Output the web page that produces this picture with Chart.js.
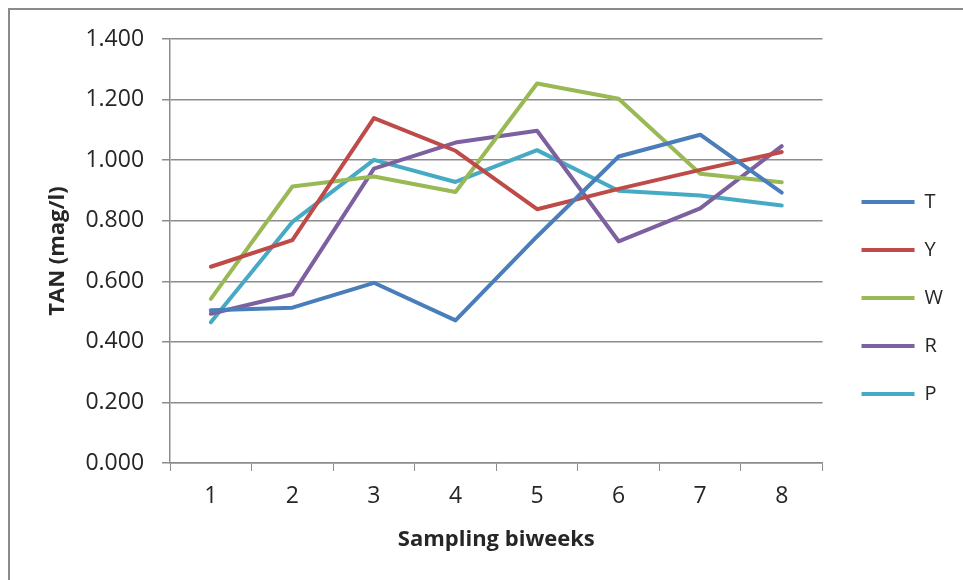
<!DOCTYPE html>
<html>
<head>
    <title>TAN by sampling biweek</title>
    <script src="https://cdn.jsdelivr.net/npm/chart.js"></script>
    <style>
        html, body { margin: 0; padding: 0; background: #fff; overflow: hidden; }
        #wrap { position: relative; width: 963px; height: 580px; }
        #frame {
            position: absolute; left: 8px; top: 8px; width: 1000px; height: 600px;
            border-top: 2px solid #8a8a8a; border-left: 2px solid #8a8a8a;
        }
        #tanChart { position: absolute; left: 0; top: 0; }
    </style>
</head>
<body>
    <div id="wrap">
        <div id="frame"></div>
        <canvas id="tanChart" width="963" height="580"></canvas>
    </div>

    <script>
        var biweeks = ['1', '2', '3', '4', '5', '6', '7', '8'];
        var seriesT = [0.504, 0.513, 0.595, 0.471, 0.748, 1.012, 1.084, 0.893];
        var seriesY = [0.648, 0.736, 1.139, 1.031, 0.838, 0.905, 0.968, 1.027];
        var seriesW = [0.542, 0.913, 0.946, 0.895, 1.253, 1.203, 0.955, 0.927];
        var seriesR = [0.493, 0.557, 0.972, 1.058, 1.097, 0.732, 0.841, 1.046];
        var seriesP = [0.465, 0.796, 1.001, 0.928, 1.033, 0.899, 0.883, 0.850];
        var yTicks = [0, 0.2, 0.4, 0.6, 0.8, 1.0, 1.2, 1.4];

        var gridGray = '#8c8c8c';
        var textDark = '#262626';
        var legendGap = 11; // extra room between plot and legend

        function line(label, values, color) {
            return {
                label: label,
                data: values,
                borderColor: color,
                backgroundColor: color,
                borderWidth: 4,
                borderJoinStyle: 'round',
                borderCapStyle: 'round',
                pointRadius: 0,
                pointHoverRadius: 0,
                tension: 0
            };
        }

        // widen the legend box on its left side so the plot ends earlier
        var legendSpacer = {
            id: 'legendSpacer',
            beforeUpdate: function (chart) {
                var lg = chart.legend;
                if (!lg || lg._spaced) return;
                var fit = lg.fit;
                lg.fit = function () {
                    fit.call(this);
                    this.width += legendGap;
                };
                lg._spaced = true;
            },
            afterLayout: function (chart) {
                if (chart.legend) chart.legend.left += legendGap;
            }
        };

        var ctx = document.getElementById('tanChart').getContext('2d');
        var chart = new Chart(ctx, {
            type: 'line',
            data: {
                labels: biweeks,
                datasets: [
                    line('T', seriesT, '#4a7ebb'),
                    line('Y', seriesY, '#be4b48'),
                    line('W', seriesW, '#98b954'),
                    line('R', seriesR, '#7d60a0'),
                    line('P', seriesP, '#46aac5')
                ]
            },
            plugins: [legendSpacer],
            options: {
                responsive: false,
                animation: false,
                layout: { padding: { top: 39, right: 10, bottom: 23, left: 41 } },
                plugins: {
                    tooltip: { enabled: false },
                    legend: {
                        position: 'right',
                        align: 'center',
                        labels: {
                            usePointStyle: true,
                            pointStyle: 'line',
                            pointStyleWidth: 53,
                            color: textDark,
                            padding: 28,
                            font: { family: 'Open Sans', size: 20 }
                        }
                    }
                },
                scales: {
                    x: {
                        offset: true,
                        grid: {
                            offset: true,
                            drawOnChartArea: false,
                            tickLength: 8,
                            color: gridGray
                        },
                        border: { color: gridGray, width: 1.5 },
                        ticks: {
                            color: textDark,
                            padding: 12,
                            font: { family: 'Open Sans', size: 23 }
                        },
                        title: {
                            display: true,
                            text: 'Sampling biweeks',
                            color: textDark,
                            padding: { top: 4 },
                            font: { family: 'Open Sans', size: 22, weight: 'bold' }
                        }
                    },
                    y: {
                        min: 0,
                        max: 1.4,
                        afterBuildTicks: function (axis) {
                            axis.ticks = yTicks.map(function (v) { return { value: v }; });
                        },
                        grid: {
                            color: gridGray,
                            lineWidth: 1.5,
                            tickLength: 8
                        },
                        border: { color: gridGray, width: 1.5 },
                        ticks: {
                            color: textDark,
                            padding: 18,
                            font: { family: 'Open Sans', size: 23 },
                            callback: function (v) { return Number(v).toFixed(3); }
                        },
                        title: {
                            display: true,
                            text: 'TAN (mag/l)',
                            color: textDark,
                            padding: { top: 4, bottom: -4 },
                            font: { family: 'Open Sans', size: 22, weight: 'bold' }
                        }
                    }
                }
            }
        });
    </script>
</body>
</html>
